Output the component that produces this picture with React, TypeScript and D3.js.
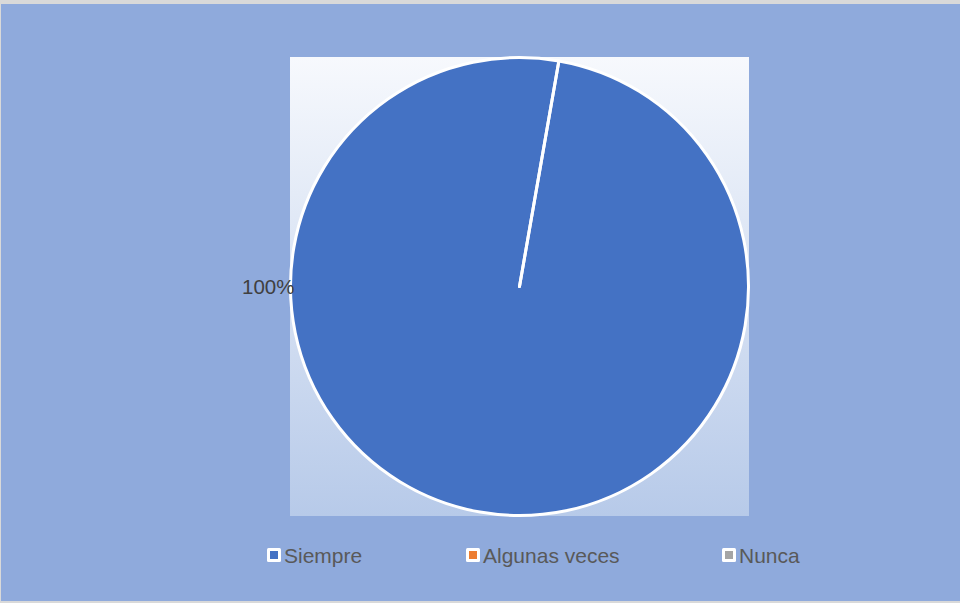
import React from "react";
import * as d3 from "d3";

const categories = ["Siempre", "Algunas veces", "Nunca"];
const values = [100, 0, 0];
const colors = ["#4472C4", "#ED7D31", "#A5A5A5"];
const labelText = ["100%"];

const W = 960;
const H = 603;

export default function App() {
  const plot = { x: 290, y: 57, w: 459, h: 459 };
  const cx = 519.5;
  const cy = 286.5;
  const r = 229;
  const startDeg = 9.9;
  const pie = d3
    .pie<number>()
    .sort(null)
    .startAngle((startDeg * Math.PI) / 180)
    .endAngle(((startDeg + 360) * Math.PI) / 180);
  const arcs = pie(values);
  const arcGen = d3.arc<d3.PieArcDatum<number>>().innerRadius(0).outerRadius(r);

  const legendX = d3.scaleOrdinal<string, number>().domain(categories).range([267, 466, 722]);

  return (
    <div style={{ position: "absolute", left: 0, top: 0, width: W, height: H }}>
      <svg width={W} height={H} style={{ display: "block" }}>
        <defs>
          <linearGradient id="plotGrad" x1="0" y1="0" x2="0" y2="1">
            <stop offset="0" stopColor="#F7F9FD" />
            <stop offset="1" stopColor="#B7CAE9" />
          </linearGradient>
        </defs>
        <rect x={0} y={0} width={W} height={H} fill="#D9D9D9" />
        <rect x={1} y={4} width={W - 1} height={597} fill="#8FAADC" />
        <rect x={plot.x} y={plot.y} width={plot.w} height={plot.h} fill="url(#plotGrad)" />
        <g transform={`translate(${cx},${cy})`}>
          {arcs.map((a, i) => (
            <path key={i} d={arcGen(a) || ""} fill={colors[i]} stroke="#FFFFFF" strokeWidth={3} strokeLinejoin="round" />
          ))}
        </g>
        <text
          x={cx - r + 4}
          y={cy + 7}
          textAnchor="end"
          fontFamily="Liberation Sans, Arial, sans-serif"
          fontSize={20.5}
          fill="#404040"
        >
          {labelText[0]}
        </text>
        {categories.map((c, i) => (
          <g key={c} transform={`translate(${legendX(c)},548)`}>
            <rect x={0} y={0} width={14} height={14} fill="#FFFFFF" rx={1.5} />
            <rect x={3} y={3} width={8} height={8} fill={colors[i]} />
            <text
              x={17}
              y={14.5}
              fontFamily="Liberation Sans, Arial, sans-serif"
              fontSize={21}
              fill="#595959"
            >
              {c}
            </text>
          </g>
        ))}
      </svg>
    </div>
  );
}
